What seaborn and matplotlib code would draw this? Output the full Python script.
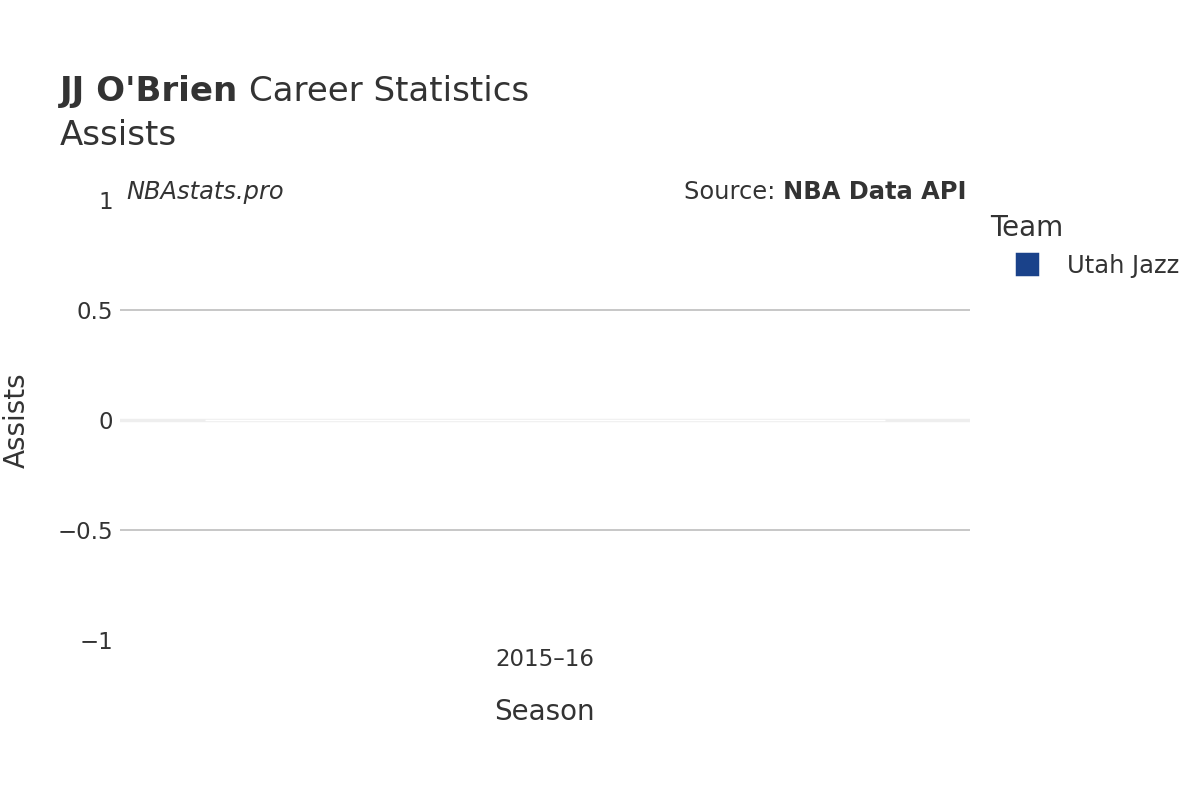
import matplotlib
matplotlib.use("Agg")
import matplotlib.pyplot as plt
import seaborn as sns
import pandas as pd
from matplotlib.lines import Line2D

seasons = ["2015–16"]
teams = ["Utah Jazz"]
assists = [0]
team_colors = {"Utah Jazz": "#1a428a"}
y_ticks = [-1, -0.5, 0, 0.5, 1]
y_tick_labels = ["−1", "−0.5", "0", "0.5", "1"]

df = pd.DataFrame({"Season": seasons, "Team": teams, "Assists": assists})

sns.set_style("white")
plt.rcParams['font.family'] = ['DejaVu Sans']

fig = plt.figure(figsize=(12, 8), dpi=100)
ax = fig.add_axes([0.1, 0.2, 0.708, 0.55])

sns.barplot(data=df, x="Season", y="Assists", hue="Team", palette=team_colors,
            ax=ax, legend=False, width=0.8)

ax.set_ylim(-1, 1)
ax.set_yticks(y_ticks)
ax.set_yticklabels(y_tick_labels)
for yv in [-0.5, 0.5]:
    ax.axhline(yv, color="#bdbdbd", lw=1.2, zorder=0)
ax.axhline(0, color="#eeeeee", lw=2.5, zorder=0)

for s in ax.spines.values():
    s.set_visible(False)
ax.tick_params(axis="both", length=0, labelsize=16.5, colors="#333333", pad=5)
ax.tick_params(axis="x", pad=6)
ax.set_xlabel("Season", fontsize=20, color="#333333", labelpad=19)
ax.set_ylabel("Assists", fontsize=20, color="#333333", labelpad=19)

renderer = fig.canvas.get_renderer()
t1 = fig.text(0.05, 0.874, "JJ O'Brien", fontsize=24.5, fontweight="bold", color="#333333", va="baseline")
fig.canvas.draw()
bb = t1.get_window_extent(renderer=renderer)
fig.text(bb.x1 / fig.bbox.width + 0.009, 0.874, "Career Statistics", fontsize=24.5,
         color="#333333", va="baseline")
fig.text(0.05, 0.819, "Assists", fontsize=24.5, color="#333333", va="baseline")

ax.text(0.007, 1.018, "NBAstats.pro", transform=ax.transAxes, fontsize=17.4, style="italic",
        color="#333333", va="center", ha="left")
src = ax.text(0.996, 1.018, "NBA Data API", transform=ax.transAxes, fontsize=17.4, fontweight="bold",
              color="#333333", va="center", ha="right")
fig.canvas.draw()
bb = src.get_window_extent(renderer=renderer)
x0 = ax.transAxes.inverted().transform((bb.x0, bb.y0))[0]
ax.text(x0, 1.018, "Source: ", transform=ax.transAxes, fontsize=17.4,
        color="#333333", va="center", ha="right")

handles = [Line2D([0], [0], marker="s", color="none", markerfacecolor=team_colors[t],
                  markeredgecolor=team_colors[t], markeredgewidth=2.5, markersize=14,
                  label=t) for t in teams]
leg = fig.legend(handles=handles, title="Team", loc="upper left", bbox_to_anchor=(0.8113, 0.754),
                 frameon=False, fontsize=17.4, title_fontsize=20, handlelength=3.0,
                 handletextpad=0.17, labelcolor="#333333", borderpad=0.2)
leg.get_title().set_color("#333333")
leg._legend_box.align = "left"
for h in leg.legend_handles:
    h.set_markeredgewidth(2.5)
    try:
        h.set_solid_joinstyle("round")
    except Exception:
        pass

fig.savefig("out.png", dpi=100, facecolor="white")
